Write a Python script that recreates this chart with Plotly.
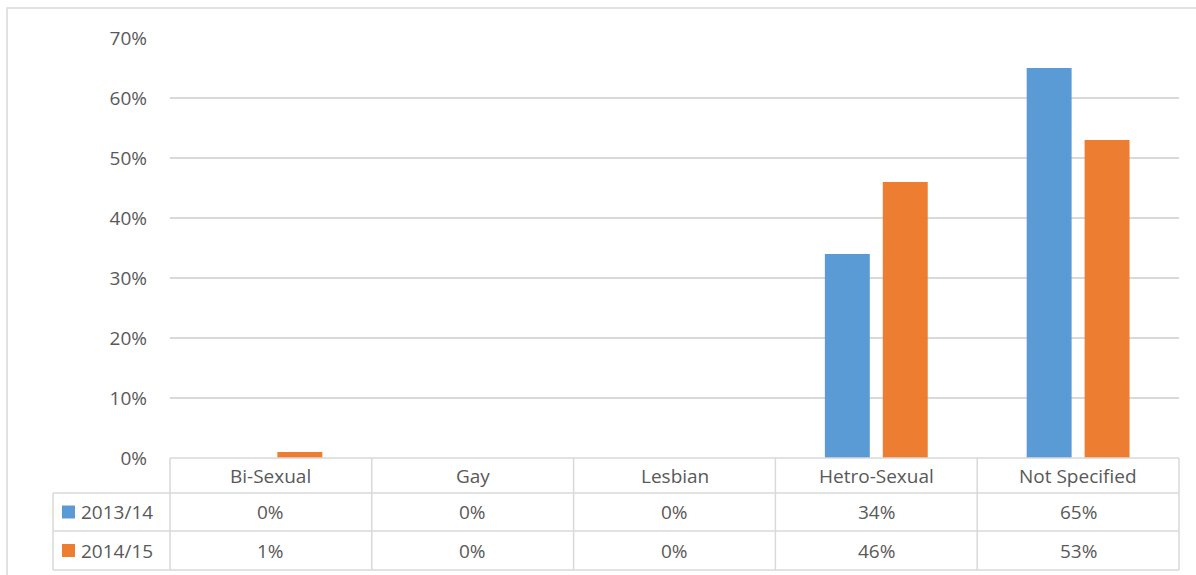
import plotly.graph_objects as go

categories = ["Bi-Sexual", "Gay", "Lesbian", "Hetro-Sexual", "Not Specified"]
series_names = ["2013/14", "2014/15"]
vals_2013 = [0, 0, 0, 34, 65]
vals_2014 = [1, 0, 0, 46, 53]
y_ticks = [0, 10, 20, 30, 40, 50, 60, 70]

colors = ["#5b9bd5", "#ed7d31"]
grid = "#d9d9d9"
txt = "#595959"
font = "Open Sans"

fig = go.Figure()
for name, vals, c in zip(series_names, [vals_2013, vals_2014], colors):
    fig.add_trace(go.Bar(x=categories, y=vals, name=name, marker_color=c,
                         marker_line_width=0, showlegend=False))

W, H = 1196, 575
ml, mr, mt, mb = 170, 17, 38, 117
pw = W - ml - mr
ph = H - mt - mb

def px_x(p):
    return (p - ml) / pw

def px_y(p):
    return (H - mb - p) / ph

shapes = []
annotations = []
line = dict(color=grid, width=1.5)

# outer chart frame
shapes.append(dict(type="rect", xref="paper", yref="paper",
                   x0=px_x(7), x1=px_x(W + 10), y0=px_y(H + 10), y1=px_y(8),
                   line=line, layer="below"))

# data table
rows_y = [px_y(458), px_y(493), px_y(531), px_y(570)]
n = len(categories)
left = px_x(53)
shapes.append(dict(type="line", xref="paper", yref="paper", x0=0, x1=1,
                   y0=rows_y[0], y1=rows_y[0], line=line))
for ry in rows_y[1:]:
    shapes.append(dict(type="line", xref="paper", yref="paper", x0=left, x1=1,
                       y0=ry, y1=ry, line=line))
shapes.append(dict(type="line", xref="paper", yref="paper", x0=left, x1=left,
                   y0=rows_y[1], y1=rows_y[3], line=line))
for k in range(n + 1):
    shapes.append(dict(type="line", xref="paper", yref="paper", x0=k / n, x1=k / n,
                       y0=rows_y[0], y1=rows_y[3], line=line))

fnt = dict(family=font, size=19, color=txt)
for i, cat in enumerate(categories):
    cx = (i + 0.5) / n
    annotations.append(dict(x=cx, y=(rows_y[0] + rows_y[1]) / 2, xref="paper", yref="paper",
                            text=cat, showarrow=False, font=fnt,
                            xanchor="center", yanchor="middle"))
    for r, vals in enumerate([vals_2013, vals_2014]):
        annotations.append(dict(x=cx, y=(rows_y[r + 1] + rows_y[r + 2]) / 2,
                                xref="paper", yref="paper", text=f"{vals[i]}%",
                                showarrow=False, font=fnt,
                                xanchor="center", yanchor="middle"))

for r, (name, c) in enumerate(zip(series_names, colors)):
    cy = (rows_y[r + 1] + rows_y[r + 2]) / 2
    shapes.append(dict(type="rect", xref="paper", yref="paper",
                       x0=px_x(62), x1=px_x(75), y0=cy - 6.5 / ph, y1=cy + 6.5 / ph,
                       fillcolor=c, line_width=0))
    annotations.append(dict(x=px_x(79), y=cy, xref="paper", yref="paper", text=name,
                            showarrow=False, xanchor="left", yanchor="middle", font=fnt))

fig.update_layout(
    width=W, height=H,
    margin=dict(l=ml, r=mr, t=mt, b=mb),
    paper_bgcolor="white", plot_bgcolor="white",
    barmode="group", bargap=0.426, bargroupgap=0.224,
    font=dict(family=font, size=19, color=txt),
    shapes=shapes, annotations=annotations,
    xaxis=dict(showticklabels=False, showgrid=False, zeroline=False, showline=False,
               range=[-0.5, len(categories) - 0.5]),
    yaxis=dict(range=[0, 70], tickvals=y_ticks, ticktext=[f"{v}%" for v in y_ticks],
               showgrid=True, gridcolor=grid, gridwidth=1.5, zeroline=False,
               showline=False, ticklabelstandoff=22, tickfont=fnt),
)

fig.write_html("out.html", config={"displayModeBar": False},
               post_script="document.body.style.margin='0';")
